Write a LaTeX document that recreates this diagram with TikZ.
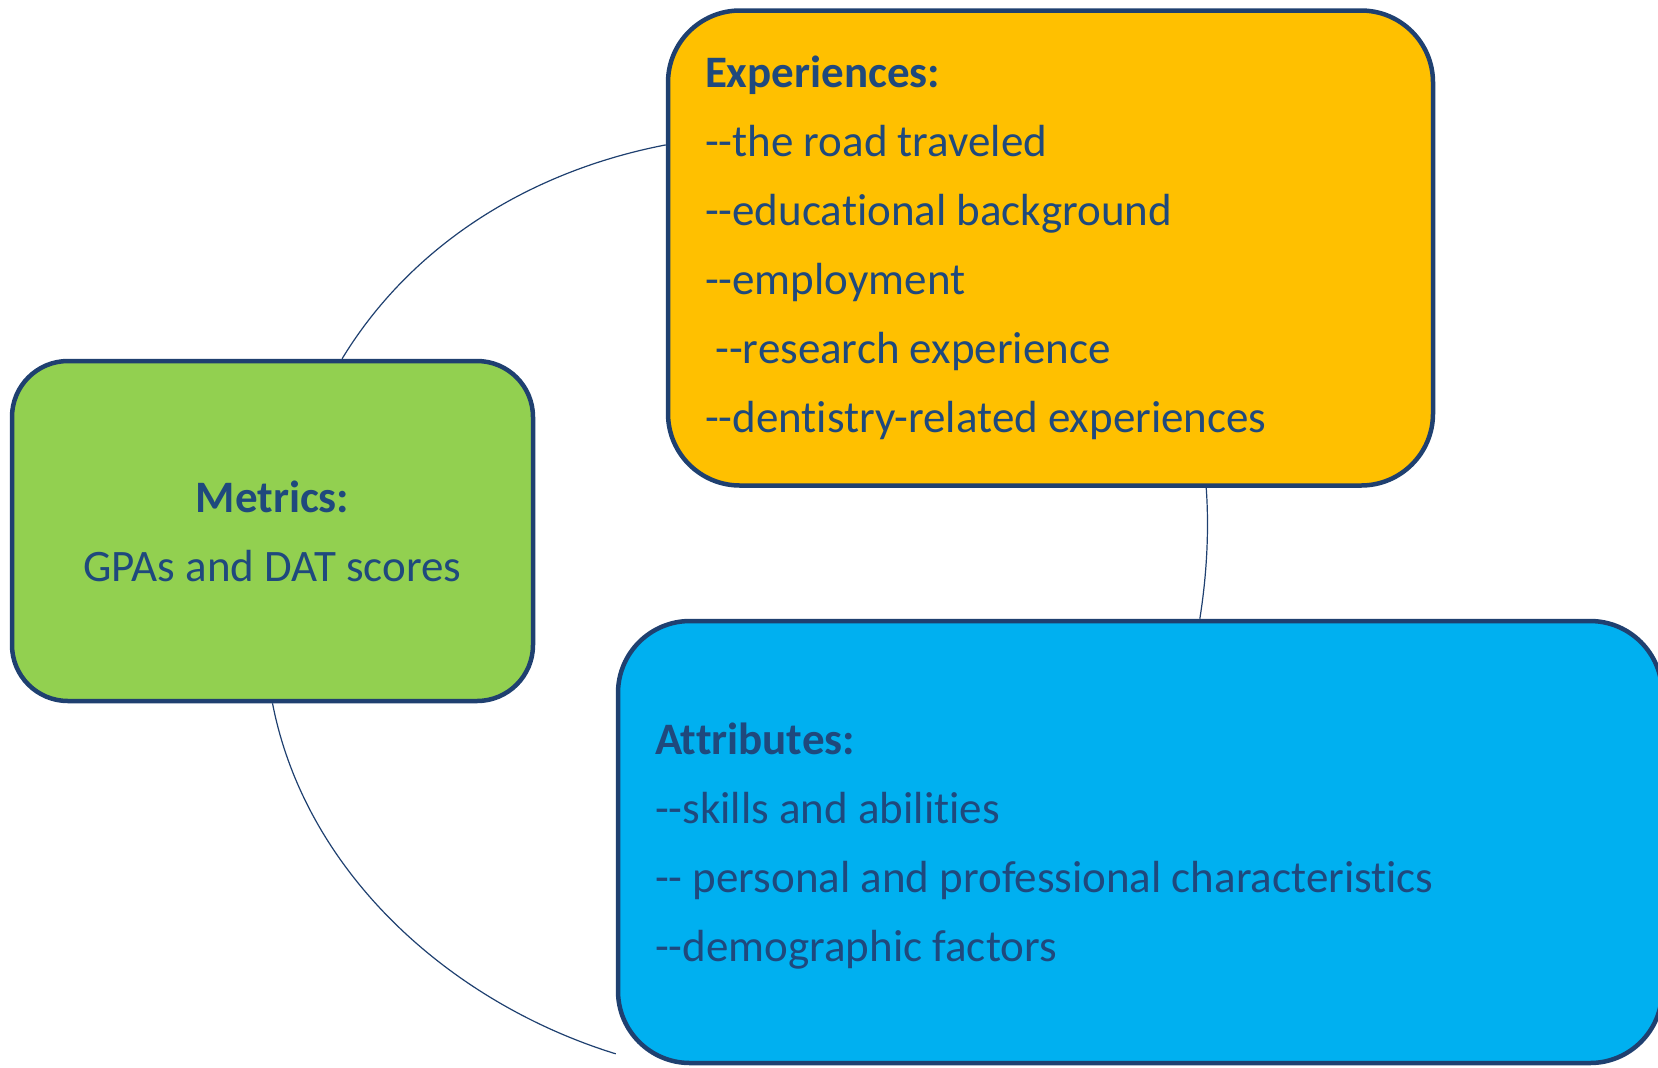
\documentclass[tikz,border=0pt]{standalone}
\usepackage{fontspec}
\setmainfont{Carlito}[Ligatures={TeXOff,NoCommon}]
\usepackage{tikz}

\definecolor{boxline}{RGB}{31,64,112}
\definecolor{boxtext}{RGB}{31,73,125}
\definecolor{expfill}{RGB}{255,192,0}
\definecolor{metfill}{RGB}{146,208,80}
\definecolor{attfill}{RGB}{0,176,240}

\tikzset{
    topicbox/.style={draw=boxline, line width=2.25pt, text=boxtext,
        inner xsep=18.5pt, inner ysep=0pt,
        font=\fontsize{22.5pt}{34.5pt}\selectfont},
    link/.style={draw=boxline, line width=0.6pt}
}

\begin{document}
\begin{tikzpicture}[x=0.5pt,y=-0.5pt]
    \useasboundingbox (0,0) rectangle (1658,1067);

    % draws boxes
    \node[topicbox, fill=expfill, rounded corners=36pt, text width=345.5pt,
        minimum height=237.5pt, align=flush left] (exp) at (1050.5,248)
        {\textbf{Experiences:}\\--the road traveled\\--educational background\\--employment\\\hspace*{0.23em}--research experience\\--dentistry-related experiences};
    \node[topicbox, fill=metfill, rounded corners=28pt, minimum width=260.5pt,
        minimum height=170pt, align=center] (met) at (272.5,531)
        {\textbf{Metrics:}\\GPAs and DAT scores};
    \node[topicbox, fill=attfill, rounded corners=36pt, text width=485pt,
        minimum height=221pt, align=flush left] (att) at (1140,842)
        {\rule{0pt}{20pt}\textbf{Attributes:}\\--skills and abilities\\-- personal and professional characteristics\\--demographic factors};

    % draws connectors
    \draw[link] (exp.165) .. controls +(-135,26) and +(70,-115) .. (met.68);
    \draw[link] (exp.-57) .. controls +(3,42) and +(7,-44) .. (att.75);
    \draw[link] (met.south) .. controls +(33,170) and +(-165,-51) .. (att.202);
\end{tikzpicture}
\end{document}
